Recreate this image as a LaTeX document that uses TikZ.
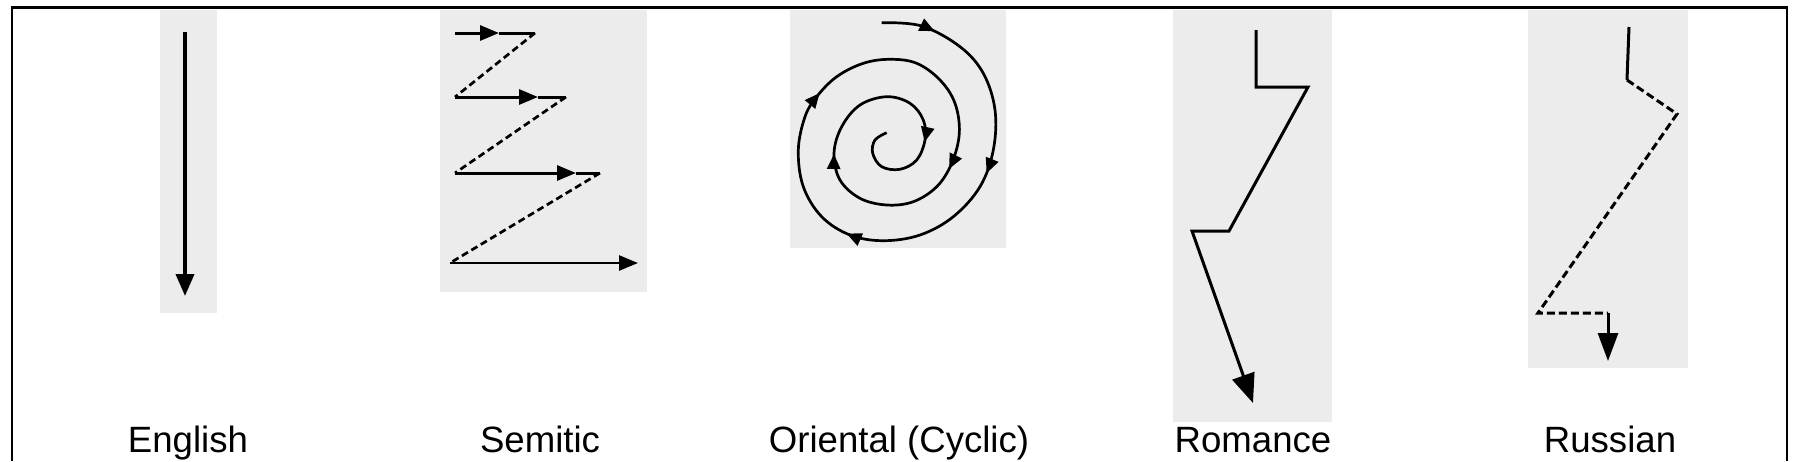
\documentclass[tikz,border=0pt]{standalone}
\usepackage{fontspec}
\setmainfont{Liberation Sans}
\usetikzlibrary{arrows.meta,decorations.markings}
\definecolor{paper}{RGB}{236,236,236}
\tikzset{
  panel/.style={fill=paper,draw=none},
  solidline/.style={line width=3pt,line join=miter},
  dashline/.style={line width=2.7pt,dash pattern=on 7pt off 4pt},
  lbl/.style={anchor=base,font=\fontsize{36.6}{44}\selectfont,inner sep=0pt},
  headS/.style={-{Triangle[length=19pt,width=15pt]}},
  spiralhead/.style={},
}
\begin{document}
\begin{tikzpicture}[x=1pt,y=-1pt]
\useasboundingbox (0,0) rectangle (1801,461);
% frame
\draw[line width=2.6pt] (12,461) -- (12,7.3) -- (1787,7.3) -- (1787,461);
% panels
\fill[panel] (160,9.5) rectangle (217,313);
\fill[panel] (440,9.5) rectangle (647,292);
\fill[panel] (790,9.5) rectangle (1006,248);
\fill[panel] (1173,9.5) rectangle (1332,422);
\fill[panel] (1528,9.5) rectangle (1688,368);
% English
\coordinate (E1) at (185,32);
\coordinate (E2) at (185,296);
\draw[line width=3.8pt,-{Triangle[length=22pt,width=18pt]}] (E1) -- (E2);
% Semitic
\coordinate (S1) at (455,33); \coordinate (S1t) at (499,33); \coordinate (S2) at (535,33);
\coordinate (S3) at (455,97); \coordinate (S3t) at (538,97); \coordinate (S4) at (566,97);
\coordinate (S5) at (455,173); \coordinate (S5t) at (576,173); \coordinate (S6) at (600,173);
\coordinate (S7) at (450,263); \coordinate (S8) at (638,263);
\draw[solidline,headS] (S1) -- (S1t);
\draw[solidline] (S1t) -- (S2);
\draw[dashline] (S2) -- (S3);
\draw[solidline,headS] (S3) -- (S3t);
\draw[solidline] (S3t) -- (S4);
\draw[dashline] (S4) -- (S5);
\draw[solidline,headS] (S5) -- (S5t);
\draw[solidline] (S5t) -- (S6);
\draw[dashline] (S6) -- (S7);
\draw[line width=2.6pt,headS] (S7) -- (S8);
% Oriental spiral
\draw[line width=2.7pt,
  postaction={decorate},
  decoration={markings,
    mark=at position 0.045 with {\arrow{Triangle[length=15pt,width=13pt]}},
    mark=at position 0.185 with {\arrow{Triangle[length=15pt,width=13pt]}},
    mark=at position 0.325 with {\arrow{Triangle[length=15pt,width=13pt]}},
    mark=at position 0.462 with {\arrow{Triangle[length=15pt,width=13pt]}},
    mark=at position 0.655 with {\arrow{Triangle[length=15pt,width=13pt]}},
    mark=at position 0.787 with {\arrow{Triangle[length=15pt,width=13pt]}},
    mark=at position 0.915 with {\arrow{Triangle[length=15pt,width=13pt]}}}]
  plot[smooth,tension=0.6] coordinates {
  (881.7,22.7) (921.7,26.0) (960.0,46.7) (983.3,73.3) (995.0,110.0)
  (993.3,150.0) (980.0,186.7) (953.3,216.7) (920.0,235.0) (883.3,240.7)
  (850.0,235.0) (821.7,216.7) (803.3,186.7) (798.3,150.0) (805.0,116.7)
  (816.7,96.7) (836.7,76.7) (863.3,63.3) (890.0,59.3) (916.7,63.3)
  (940.0,80.0) (955.0,103.3) (959.3,133.3) (951.7,163.3) (936.7,186.7)
  (913.3,201.7) (886.7,205.0) (860.0,198.3) (840.0,180.0) (834.0,153.3)
  (841.7,126.7) (860.0,105.0) (886.7,96.7) (910.0,103.3) (923.3,120.0)
  (925.0,140.0) (916.7,160.0) (900.0,169.3) (881.7,166.7) (872.7,153.3)
  (875.0,140.0) (886.7,132.7)};
% Romance
\coordinate (R1) at (1256,30); \coordinate (R2) at (1256,87);
\coordinate (R3) at (1308,87); \coordinate (R4) at (1229,231);
\coordinate (R5) at (1192,231); \coordinate (R6) at (1253,403);
\draw[solidline,-{Triangle[length=29pt,width=23pt]}] (R1) -- (R2) -- (R3) -- (R4) -- (R5) -- (R6);
% Russian
\coordinate (U1) at (1629,27); \coordinate (U2) at (1627,80);
\coordinate (U3) at (1677,114); \coordinate (U4) at (1538,313);
\coordinate (U5) at (1608,313); \coordinate (U6) at (1608,361);
\draw[solidline] (U1) -- (U2);
\draw[line width=3pt,dash pattern=on 8pt off 4pt] (U2) -- (U3) -- (U4) -- (U5);
\draw[solidline,-{Triangle[length=28pt,width=20pt]}] (U5) -- (U6);
% labels
\node[lbl] (lE) at (188,452) {English};
\node[lbl] (lS) at (540,452) {Semitic};
\node[lbl] (lO) at (899,452) {Oriental (Cyclic)};
\node[lbl] (lR) at (1253,452) {Romance};
\node[lbl] (lU) at (1610,452) {Russian};
\end{tikzpicture}
\end{document}
